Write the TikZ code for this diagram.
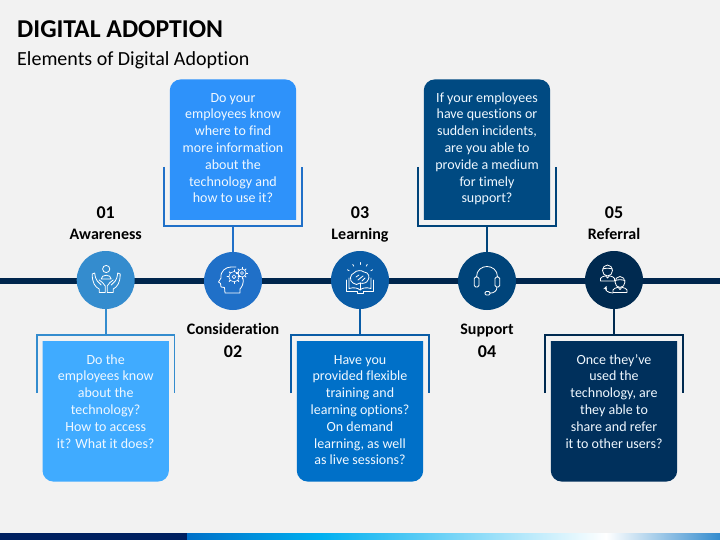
\documentclass[tikz,border=0pt]{standalone}
\usepackage{fontspec}
\setmainfont[Ligatures=NoCommon]{Carlito}
\usetikzlibrary{positioning,calc,backgrounds}
\definecolor{pagegray}{RGB}{242,242,242}
\definecolor{linenavy}{RGB}{0,38,77}
\definecolor{stripnavy}{RGB}{0,32,96}
\definecolor{stripcyan}{RGB}{0,176,240}
\definecolor{circa}{RGB}{52,140,206}
\definecolor{circb}{RGB}{32,112,200}
\definecolor{circc}{RGB}{10,92,166}
\definecolor{circd}{RGB}{0,68,122}
\definecolor{circe}{RGB}{0,42,80}
\definecolor{boxa}{RGB}{64,171,255}
\definecolor{boxb}{RGB}{46,146,250}
\definecolor{boxc}{RGB}{0,112,200}
\definecolor{boxd}{RGB}{0,74,130}
\definecolor{boxe}{RGB}{0,48,92}
\newcommand{\boxlines}[1]{\parbox[c][120pt][t]{120pt}{\centering\fontsize{14}{16.8}\selectfont\rule{0pt}{12.6pt}#1}}

\begin{document}
\begin{tikzpicture}[
    x=1pt, y=-1pt,
    stepcircle/.style={circle, minimum size=58pt, inner sep=0pt},
    msgbox/.style={minimum width=126pt, minimum height=140pt, inner xsep=3pt, inner ysep=10pt, text=white!92!boxa},
    stepname/.style={font=\fontsize{16}{18}\selectfont\bfseries, inner sep=0pt, text height=10pt, text depth=3pt},
    stepnum/.style={font=\fontsize{18}{20}\selectfont\bfseries, inner sep=0pt, text height=12pt, text depth=0pt},
    bracket/.style={line width=1.7pt},
    icon/.style={draw=white, line width=0.8pt, line join=round, line cap=round, fill=none}
]
\useasboundingbox (0,0) rectangle (720,540);

% Page and timeline
\begin{scope}[on background layer]
\fill[pagegray] (0,0) rectangle (720,540);
\fill[white] (0,532.6) rectangle (720,533.4);
\fill[stripnavy] (0,533.4) rectangle (187,540);
\shade[left color=boxc, right color=stripcyan] (187,533.4) rectangle (321,540);
\shade[left color=stripcyan, right color=white] (321,533.4) rectangle (606,540);
\shade[left color=white, right color=circa] (606,533.4) rectangle (720,540);
\fill[linenavy] (0,277.7) rectangle (720,284.3);
\end{scope}

% Titles
\node[anchor=west, inner sep=0pt, font=\fontsize{25.7}{28}\selectfont\bfseries] (title) at (17,29) {DIGITAL ADOPTION};
\node[anchor=west, inner sep=0pt, font=\fontsize{20}{22}\selectfont] (subtitle) at (17,60) {Elements of Digital Adoption};

% Circles on the line
\node[stepcircle, fill=circa] (c1) at (105.7,280) {};
\node[stepcircle, fill=circb] (c2) at (233,281) {};
\node[stepcircle, fill=circc] (c3) at (360,280) {};
\node[stepcircle, fill=circd] (c4) at (487,281) {};
\node[stepcircle, fill=circe] (c5) at (614,280) {};

% Step names
\node[stepname, above=8pt of c1] (name1) {Awareness};
\node[stepnum, above=11pt of name1] (num1) {01};
\node[stepname, below=14pt of c2] (name2) {Consideration};
\node[stepnum, below=8pt of name2] (num2) {02};
\node[stepname, above=8pt of c3] (name3) {Learning};
\node[stepnum, above=11pt of name3] (num3) {03};
\node[stepname, below=14pt of c4] (name4) {Support};
\node[stepnum, below=8pt of name4] (num4) {04};
\node[stepname, above=8pt of c5] (name5) {Referral};
\node[stepnum, above=11pt of name5] (num5) {05};

% Message boxes
\node[msgbox, below=32pt of c1] (box1) {\boxlines{Do the\\employees know\\about the\\technology?\\How to access\\it? What it does?}};
\node[msgbox, above=32pt of c2] (box2) {\boxlines{Do your\\employees know\\where to find\\more information\\about the\\technology and\\how to use it?}};
\node[msgbox, below=32pt of c3] (box3) {\boxlines{Have you\\provided flexible\\training and\\learning options?\\On demand\\learning, as well\\as live sessions?}};
\node[msgbox, above=32pt of c4] (box4) {\boxlines{If your employees\\have questions or\\sudden incidents,\\are you able to\\provide a medium\\for timely\\support?}};
\node[msgbox, below=32pt of c5] (box5) {\boxlines{Once they’ve\\used the\\technology, are\\they able to\\share and refer\\it to other users?}};

% Box fills, brackets and stems
\begin{scope}[on background layer]
\foreach \n/\col in {box1/boxa, box3/boxc, box5/boxe}{
  \fill[\col] (\n.north west) -- (\n.north east) [rounded corners=11pt] -- (\n.south east) -- (\n.south west) [sharp corners] -- cycle;
}
\foreach \n/\col in {box2/boxb, box4/boxd}{
  \fill[\col] (\n.south west) -- (\n.south east) [rounded corners=11pt] -- (\n.north east) -- (\n.north west) [sharp corners] -- cycle;
}
\end{scope}
\foreach \n/\m/\col in {box1/c1/circa, box3/c3/circc, box5/c5/circe}{
  \coordinate (top\n) at ([yshift=6pt]\n.north);
  \draw[bracket, \col] ([shift={(-5.6pt,-52pt)}]\n.north west) -- ([shift={(-5.6pt,6pt)}]\n.north west) -- ([shift={(5.6pt,6pt)}]\n.north east) -- ([shift={(5.6pt,-52pt)}]\n.north east);
  \draw[bracket, \col] (\m) -- (top\n);
}
\foreach \n/\m/\col in {box2/c2/circb, box4/c4/circd}{
  \coordinate (bot\n) at ([yshift=-6pt]\n.south);
  \draw[bracket, \col] ([shift={(-5.6pt,53pt)}]\n.south west) -- ([shift={(-5.6pt,-6pt)}]\n.south west) -- ([shift={(5.6pt,-6pt)}]\n.south east) -- ([shift={(5.6pt,53pt)}]\n.south east);
  \draw[bracket, \col] (\m) -- (bot\n);
}

% Icon: person held in two hands
\begin{scope}[shift={(c1)}, icon]
\draw[icon] (0.5,-11) circle (3.6);
\draw[icon] (-4.5,-1) .. controls (-4.5,-6) and (5.5,-6) .. (5.5,-1) -- cycle;
\foreach \s in {1,-1}{
  \begin{scope}[xshift=0.5pt, xscale=\s]
  \draw[icon] (-1,12.5) -- (-1,6) .. controls (-2,3) and (-5,2) .. (-7,0) (-1,12.5) -- (-7,12.5) -- (-7,9) .. controls (-11,7) and (-14,3) .. (-14,-6) -- (-11.5,-7) .. controls (-11,-3) and (-10.5,-1) .. (-9,1) -- (-5,5);
  \end{scope}
}
\end{scope}

% Icon: head with gears
\begin{scope}[shift={(c2)}, icon]
\draw[icon] (-8,12) -- (-8.5,6.5) -- (-12,6) .. controls (-13,4) and (-12.5,3.5) .. (-12.5,2.5) -- (-14.5,1) -- (-12,-3) .. controls (-13,-10) and (-7,-14) .. (-2,-14) -- (3,-14) (10,-3) .. controls (11,2) and (9,6) .. (7,8) -- (7,12) -- (-8,12);
\foreach \cx/\cy/\r in {1/-4.3/6.8, 9/-8/5.6}{
  \draw[icon, line width=0.6pt] (\cx,\cy) circle (\r-1.6);
  \draw[icon, line width=0.6pt] (\cx,\cy) circle (\r*0.28);
  \foreach \a in {0,45,...,315}{
    \draw[icon, line width=1pt] ($(\cx,\cy)+(\a:\r-1.6)$) -- ($(\cx,\cy)+(\a:\r)$);
  }
}
\end{scope}

% Icon: open book with brain
\begin{scope}[shift={(c3)}, icon]
\draw[icon] (-13.5,0) -- (-13.5,11) -- (-3,11) -- (-3,13.5) -- (3,13.5) -- (3,11) -- (13.5,11) -- (13.5,0);
\draw[icon] (-11,-2) -- (-11,8.5) .. controls (-6,7) and (-2,8) .. (0,10) .. controls (2,8) and (6,7) .. (11,8.5) -- (11,-2);
\draw[icon] (0,3) -- (0,10);
\draw[icon] (-7,3) .. controls (-11,1) and (-10,-6) .. (-6,-7) .. controls (-4,-10) and (2,-10) .. (4,-8) .. controls (9,-8) and (10,-2) .. (8,0) .. controls (7,3) and (3,4) .. (0,3) .. controls (-2,5) and (-5,5) .. (-7,3);
\draw[icon] (-4,-3) -- (-1,-5) (-2,0) -- (3,-4) (2,1) -- (5,-2);
\foreach \a in {-150,-120,-90,-60,-30}{
  \draw[icon] (0,-3) ++(\a:12.5) -- ++(\a:2);
}
\end{scope}

% Icon: headset
\begin{scope}[shift={(c4)}, icon]
\draw[icon] (-10.5,-4) .. controls (-10.5,-18) and (10.5,-18) .. (10.5,-4);
\draw[icon, rounded corners=1.5pt] (-12.7,-4) rectangle (-8,6);
\draw[icon, rounded corners=1.5pt] (8,-4) rectangle (12.7,6);
\draw[icon] (10,6) .. controls (10,10) and (7,12) .. (3,12.2);
\draw[icon, rounded corners=1.2pt] (-2,10.5) rectangle (3,14);
\end{scope}

% Icon: two people and a curved arrow
\begin{scope}[shift={(c5)}, icon]
\foreach \px/\py in {-6.5/-9, 6/2.5}{
  \begin{scope}[xshift=\px pt, yshift=-\py pt]
  \draw[icon] (0,-0.5) ellipse (5 and 5.5);
  \draw[icon] (-5,-2) .. controls (-2,-3) and (2,-3) .. (5,-2);
  \draw[icon] (-7,10) -- (-7,7.5) .. controls (-7,6) and (-4,5.5) .. (-2,4.8) -- (0,7) -- (2,4.8) .. controls (4,5.5) and (7,6) .. (7,7.5) -- (7,10) -- cycle;
  \end{scope}
}
\draw[icon, ->, >=stealth] (-1,13) .. controls (-6,13) and (-9,10) .. (-7.5,6);
\end{scope}

\end{tikzpicture}
\end{document}
